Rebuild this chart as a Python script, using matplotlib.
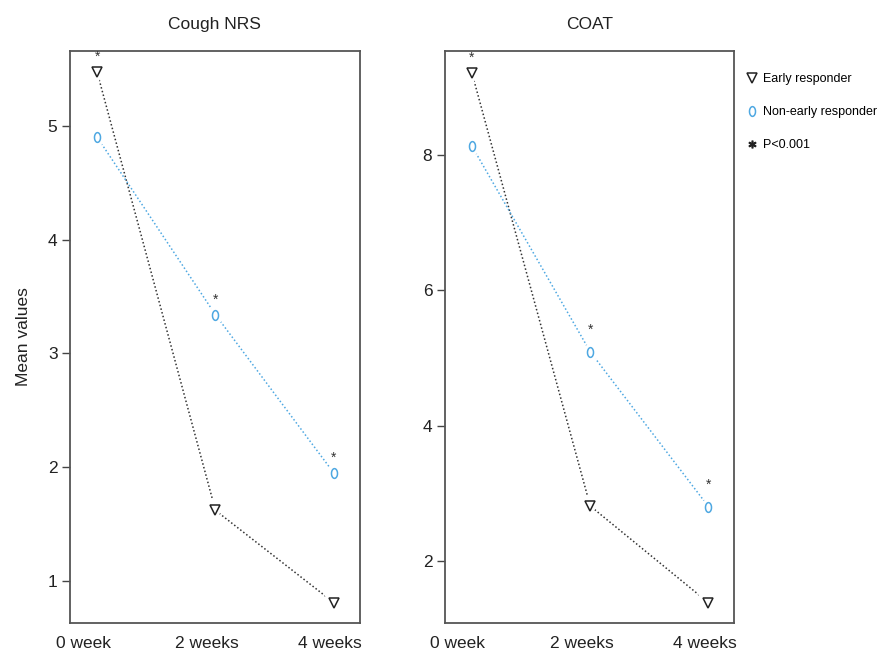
import matplotlib
matplotlib.use("Agg")
import matplotlib.pyplot as plt
import numpy as np
from matplotlib.path import Path
from matplotlib.lines import Line2D

plt.rcParams['font.family'] = ['Liberation Sans', 'DejaVu Sans']

weeks = [1, 2, 3]
week_labels = ['0 week', '2 weeks', '4 weeks']

titles = ['Cough NRS', 'COAT']
early = [[5.47, 1.62, 0.81],
         [9.21, 2.81, 1.38]]
non_early = [[4.90, 3.34, 1.95],
             [8.13, 5.09, 2.80]]
# which group gets the asterisk at each time point
star_on = ['early', 'non', 'non']

ylims = [(0.63, 5.66), (1.08, 9.54)]
yticks = [[1, 2, 3, 4, 5], [2, 4, 6, 8]]

c_early = '#333333'
c_non = '#4ea8e2'

# narrow ellipse marker, like the R "o"
t = np.linspace(0, 2 * np.pi, 60)
oval = Path(np.column_stack([0.62 * np.cos(t), np.sin(t)]))

fig = plt.figure(figsize=(8.86, 6.51), dpi=100)
ax_pos = [[0.079, 0.043, 0.327, 0.879], [0.502, 0.043, 0.327, 0.879]]

for i in range(2):
    ax = fig.add_axes(ax_pos[i])
    ax.plot(weeks, early[i], ls=(0, (1, 1.5)), color=c_early, lw=1.1, zorder=2)
    ax.plot(weeks, non_early[i], ls=(0, (1, 1.5)), color=c_non, lw=1.1, zorder=2)
    # white halos so the lines stop short of the markers
    ax.plot(weeks, early[i], 'v', ms=14, color='white', zorder=3)
    ax.plot(weeks, non_early[i], 'o', ms=11, color='white', zorder=3)
    ax.plot(weeks, early[i], 'v', ms=7.5, mfc='none', mec='#222222', mew=1.1, ls='none', zorder=4)
    ax.plot(weeks, non_early[i], marker=oval, ms=7, mfc='none', mec=c_non, mew=1.1, ls='none', zorder=4)

    for j, w in enumerate(weeks):
        yv = early[i][j] if star_on[j] == 'early' else non_early[i][j]
        off = 11 if (i == 0 or star_on[j] == 'early') else 16
        ax.annotate('*', (w, yv), xytext=(0, off), textcoords='offset points',
                    ha='center', va='center', fontsize=10, color='#333333')

    ax.set_xlim(0.77, 3.22)
    ax.set_ylim(*ylims[i])
    ax.set_yticks(yticks[i])
    ax.set_xticks([0.88, 1.93, 2.97])
    ax.set_xticklabels(week_labels)
    ax.tick_params(axis='x', length=0, pad=9, labelsize=12.5, colors='#222222')
    ax.tick_params(axis='y', length=6, width=1, direction='out', labelsize=12.5,
                   colors='#444444', labelcolor='#222222', pad=3)
    for s in ax.spines.values():
        s.set_color('#555555')
        s.set_linewidth(1.3)
    ax.set_title(titles[i], fontsize=12.5, pad=16, color='#222222')
    if i == 0:
        ax.set_ylabel('Mean values', fontsize=12.5, color='#222222', labelpad=12)
    else:
        handles = [
            Line2D([], [], marker='v', ls='none', ms=7, mfc='none', mec='#222222', mew=1.1),
            Line2D([], [], marker=oval, ls='none', ms=7, mfc='none', mec=c_non, mew=1.1),
            Line2D([], [], marker='$*$', ls='none', ms=5, color='#222222'),
        ]
        ax.legend(handles, ['Early responder', 'Non-early responder', 'P<0.001'],
                  loc='upper left', bbox_to_anchor=(1.03, 0.97), frameon=False,
                  fontsize=9, handlelength=0.6, handletextpad=0.6, labelspacing=1.7,
                  borderaxespad=0)

fig.savefig('out.png', dpi=100)
